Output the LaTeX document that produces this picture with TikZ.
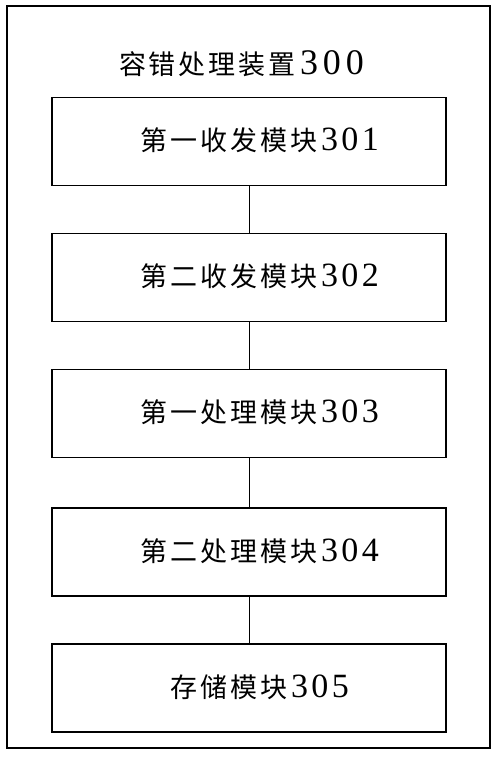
\documentclass[tikz,border=0pt]{standalone}
\usepackage{fontspec}
\setmainfont{Liberation Serif}
\newfontfamily\cjk{Noto Sans CJK SC}
\newcommand{\zc}[1]{\makebox[30pt]{\fontsize{27}{27}\selectfont\cjk #1}}
\newcommand{\zd}[1]{\makebox[20.5pt]{\fontsize{34}{34}\selectfont #1}}
\newcommand{\zt}[1]{\makebox[23pt]{\fontsize{36}{36}\selectfont #1}}
\begin{document}
\begin{tikzpicture}[x=1pt,y=-1pt,
  modbox/.style={draw,line width=1.2pt,minimum width=394pt,minimum height=88pt,inner sep=0pt},
  lbl/.style={inner sep=0pt},
  conn/.style={line width=1pt}]
\useasboundingbox (0,0) rectangle (500,758);
\draw[line width=1.2pt] (7,6) rectangle (490,748);
\node[lbl] (title) at (242,63.5) {\zc{容}\zc{错}\zc{处}\zc{理}\zc{装}\zc{置}\zt{3}\zt{0}\zt{0}};
\node[modbox] (m1) at (249,141.5) {};
\node[modbox] (m2) at (249,277.5) {};
\node[modbox] (m3) at (249,413.5) {};
\node[modbox] (m4) at (249,552) {};
\node[modbox] (m5) at (249,688) {};
\node[lbl] (t1) at (260,140.5) {\zc{第}\zc{一}\zc{收}\zc{发}\zc{模}\zc{块}\zd{3}\zd{0}\zd{1}};
\node[lbl] (t2) at (260,276.5) {\zc{第}\zc{二}\zc{收}\zc{发}\zc{模}\zc{块}\zd{3}\zd{0}\zd{2}};
\node[lbl] (t3) at (260,412.5) {\zc{第}\zc{一}\zc{处}\zc{理}\zc{模}\zc{块}\zd{3}\zd{0}\zd{3}};
\node[lbl] (t4) at (260,551) {\zc{第}\zc{二}\zc{处}\zc{理}\zc{模}\zc{块}\zd{3}\zd{0}\zd{4}};
\node[lbl] (t5) at (260,687) {\zc{存}\zc{储}\zc{模}\zc{块}\zd{3}\zd{0}\zd{5}};
\draw[conn] (m1.south) -- (m2.north);
\draw[conn] (m2.south) -- (m3.north);
\draw[conn] (m3.south) -- (m4.north);
\draw[conn] (m4.south) -- (m5.north);
\end{tikzpicture}
\end{document}
